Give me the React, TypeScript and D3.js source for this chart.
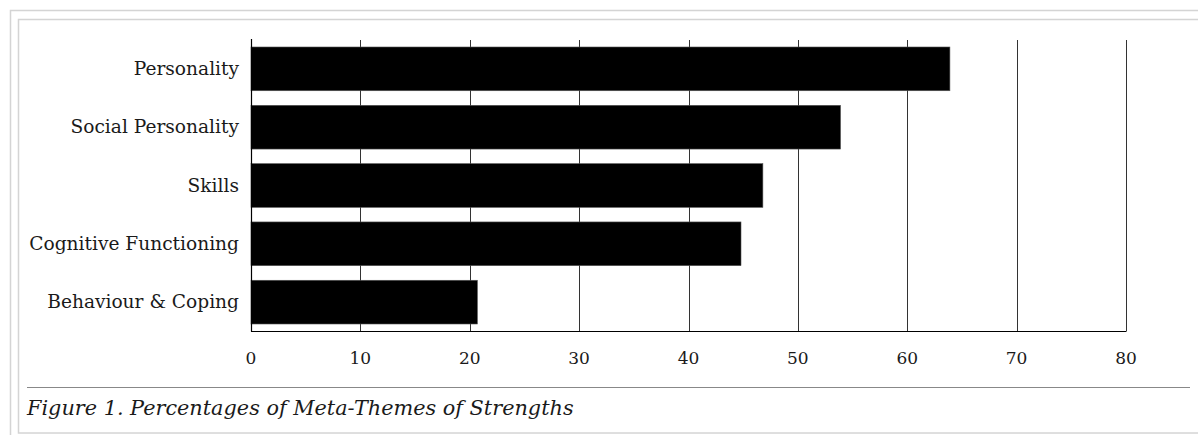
import React from "react";
import * as d3 from "d3";

const categories = [
  "Personality",
  "Social Personality",
  "Skills",
  "Cognitive Functioning",
  "Behaviour & Coping",
];
const values = [63.9, 53.9, 46.8, 44.8, 20.7];
const xTicks = [0, 10, 20, 30, 40, 50, 60, 70, 80];
const caption = "Figure 1. Percentages of Meta-Themes of Strengths";

const W = 1198;
const H = 435;
const FONT = "'DejaVu Serif', serif";

export default function App() {
  const x = d3.scaleLinear().domain([0, 80]).range([251, 1126]);
  const y = d3
    .scaleBand<string>()
    .domain(categories)
    .range([40, 331])
    .paddingInner(0.25)
    .paddingOuter(0.12);

  return (
    <svg
      width={W}
      height={H}
      style={{ position: "absolute", left: 0, top: 0, display: "block", background: "#fff" }}
    >
      {/* frame */}
      <rect x={10.5} y={10.5} width={W + 20} height={H + 20} fill="none" stroke="#d4d4d4" strokeWidth={1.5} />
      <rect x={18.5} y={19.5} width={W + 20} height={413.5} fill="none" stroke="#d4d4d4" strokeWidth={1.5} />

      {/* gridlines */}
      {xTicks.slice(1).map((t) => (
        <line key={t} x1={Math.round(x(t)) + 0.5} x2={Math.round(x(t)) + 0.5} y1={40} y2={331} stroke="#333" strokeWidth={1} />
      ))}

      {/* bars */}
      {categories.map((c, i) => (
        <rect
          key={c}
          x={x(0)}
          y={y(c)}
          width={x(values[i]) - x(0)}
          height={y.bandwidth()}
          fill="#000"
          stroke="#555"
          strokeWidth={0.6}
        />
      ))}

      {/* axes */}
      <line x1={x(0) + 0.5} x2={x(0) + 0.5} y1={39} y2={331.5} stroke="#000" strokeWidth={1.2} />
      <line x1={x(0)} x2={x(80) + 0.5} y1={331.5} y2={331.5} stroke="#000" strokeWidth={1.2} />

      {/* category labels */}
      {categories.map((c) => (
        <text
          key={c}
          x={239}
          y={(y(c) as number) + y.bandwidth() / 2}
          dy="0.33em"
          textAnchor="end"
          fontFamily={FONT}
          fontSize={18.6}
          fill="#1a1a1a"
        >
          {c}
        </text>
      ))}

      {/* tick labels */}
      {xTicks.map((t) => (
        <text key={t} x={x(t)} y={364} textAnchor="middle" fontFamily={FONT} fontSize={17} fill="#1a1a1a">
          {t}
        </text>
      ))}

      {/* caption */}
      <line x1={27} x2={1190} y1={387.5} y2={387.5} stroke="#888" strokeWidth={1.2} />
      <text x={27} y={415} fontFamily={FONT} fontStyle="italic" fontSize={20.8} fill="#1a1a1a">
        {caption}
      </text>
    </svg>
  );
}
